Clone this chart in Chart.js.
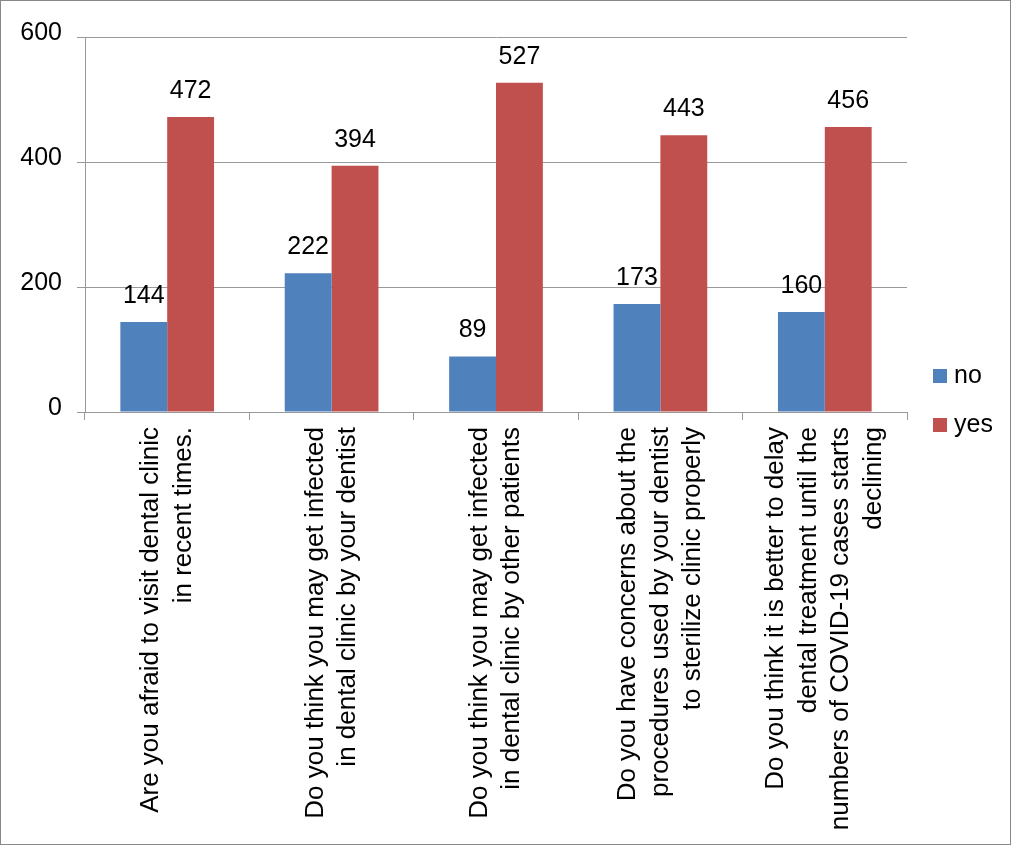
<!DOCTYPE html>
<html>
<head>
<meta charset="utf-8">
<script src="https://cdn.jsdelivr.net/npm/chart.js@4.4.1/dist/chart.umd.min.js"></script>
<style>
  html, body { margin: 0; padding: 0; background: #fff; }
  #wrap { width: 1011px; height: 845px; box-sizing: border-box; border: 1px solid #888; }
  #chart { display: block; }
</style>
</head>
<body>
<div id="wrap"><canvas id="chart" width="1009" height="843"></canvas></div>
<script>
// ── SURVEY DATA ──
const questions = [
  ['Are you afraid to visit dental clinic', 'in recent times.'],
  ['Do you think you may get infected', 'in dental clinic by your dentist'],
  ['Do you think you may get infected', 'in dental clinic by other patients'],
  ['Do you have concerns about the', 'procedures used by your dentist', 'to sterilize clinic properly'],
  ['Do you think it is better to delay', 'dental treatment until the', 'numbers of COVID-19 cases starts', 'declining']
];
const noCounts  = [144, 222, 89, 173, 160];
const yesCounts = [472, 394, 527, 443, 456];
const seriesNames = ['no', 'yes'];
const yTicks = [0, 200, 400, 600];

const FONT = '"Liberation Sans", Arial, sans-serif';
const AXIS_GREY = '#999';

// Category scale that centres a multi-line rotated label on its tick
class CenteredCategoryScale extends Chart.CategoryScale {
  _computeLabelItems(chartArea) {
    const items = super._computeLabelItems(chartArea);
    items.forEach(item => {
      const lines = Array.isArray(item.label) ? item.label.length : 1;
      item.options.translation[0] -= (lines - 1) * item.font.lineHeight / 2;
    });
    return items;
  }
}
CenteredCategoryScale.id = 'centeredCategory';
CenteredCategoryScale.defaults = Chart.CategoryScale.defaults;
Chart.register(CenteredCategoryScale);

// Value labels above each bar
const valueLabels = {
  id: 'valueLabels',
  afterDatasetsDraw(chart) {
    const ctx = chart.ctx;
    ctx.save();
    ctx.font = '25px ' + FONT;
    ctx.fillStyle = '#000';
    ctx.textAlign = 'center';
    ctx.textBaseline = 'alphabetic';
    chart.data.datasets.forEach((ds, i) => {
      chart.getDatasetMeta(i).data.forEach((bar, j) => {
        ctx.fillText(String(ds.data[j]), bar.x, bar.y - 19);
      });
    });
    ctx.restore();
  }
};

// Legend on the right, drawn from the dataset list
const sideLegend = {
  id: 'sideLegend',
  afterDraw(chart) {
    const ctx = chart.ctx;
    const x = chart.chartArea.right + 26;
    const tops = [368, 417];
    ctx.save();
    ctx.font = '25px ' + FONT;
    ctx.textBaseline = 'alphabetic';
    ctx.textAlign = 'left';
    chart.data.datasets.forEach((ds, i) => {
      ctx.fillStyle = ds.backgroundColor;
      ctx.fillRect(x, tops[i], 14, 14);
      ctx.fillStyle = '#000';
      ctx.fillText(ds.label, x + 21, tops[i] + 14);
    });
    ctx.restore();
  }
};

new Chart(document.getElementById('chart'), {
  type: 'bar',
  data: {
    labels: questions,
    datasets: [
      { label: seriesNames[0], data: noCounts,  backgroundColor: '#4F81BD' },
      { label: seriesNames[1], data: yesCounts, backgroundColor: '#C0504D' }
    ]
  },
  options: {
    responsive: false,
    animation: false,
    categoryPercentage: 0.57,
    barPercentage: 1.0,
    layout: { padding: { top: 36, right: 103, bottom: 0, left: 0 } },
    plugins: { legend: { display: false }, tooltip: { enabled: false } },
    scales: {
      x: {
        type: 'centeredCategory',
        offset: true,
        grid: { offset: true, drawOnChartArea: false, drawTicks: true, tickLength: 8, color: AXIS_GREY },
        border: { color: AXIS_GREY },
        ticks: {
          autoSkip: false, minRotation: 90, maxRotation: 90, padding: 7,
          color: '#000', font: { family: FONT, size: 26, lineHeight: 1.25 }
        },
        afterFit: s => { s.height = 432; }
      },
      y: {
        min: 0, max: 600,
        afterBuildTicks: s => { s.ticks = yTicks.map(v => ({ value: v })); },
        grid: { color: AXIS_GREY, tickLength: 8 },
        border: { color: AXIS_GREY },
        ticks: { padding: 15, labelOffset: -4, color: '#000', font: { family: FONT, size: 25 } },
        afterFit: s => { s.width = 84; }
      }
    }
  },
  plugins: [valueLabels, sideLegend]
});
</script>
</body>
</html>
